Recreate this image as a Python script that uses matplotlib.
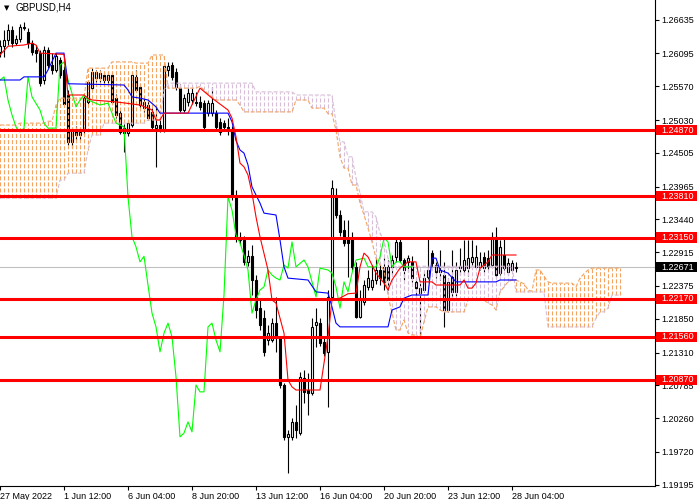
import numpy as np
import matplotlib.pyplot as plt
from matplotlib.patches import Rectangle
from matplotlib.transforms import blended_transform_factory

plt.rcParams['font.family'] = ['Liberation Sans', 'DejaVu Sans']
plt.rcParams['lines.scale_dashes'] = False

# ---- H4 candles (bar 0 = leftmost visible bar) ----
opens = [1.2612, 1.2621, 1.2631, 1.2647, 1.2626, 1.2633, 1.2652, 1.2644, 1.2626, 1.2615,
         1.2610, 1.2567, 1.2615, 1.2591, 1.2583, 1.2599, 1.2583, 1.2543, 1.2468, 1.2487,
         1.2479, 1.2487, 1.2532, 1.2554, 1.2570, 1.2570, 1.2575, 1.2567, 1.2575, 1.2538,
         1.2514, 1.2490, 1.2482, 1.2495, 1.2572, 1.2556, 1.2522, 1.2527, 1.2516, 1.2490,
         1.2495, 1.2487, 1.2583, 1.2591, 1.2580, 1.2554, 1.2519, 1.2532, 1.2535, 1.2532,
         1.2532, 1.2530, 1.2514, 1.2514, 1.2514, 1.2500, 1.2498, 1.2492, 1.2487, 1.2383,
         1.2316, 1.2311, 1.2276, 1.2285, 1.2247, 1.2202, 1.2186, 1.2151, 1.2151, 1.2178,
         1.2154, 1.2079, 1.1996, 1.1996, 1.2020, 1.2002, 1.2090, 1.2071, 1.2066, 1.2175,
         1.2178, 1.2148, 1.2132, 1.2220, 1.2383, 1.2351, 1.2327, 1.2314, 1.2314, 1.2268,
         1.2188, 1.2212, 1.2236, 1.2236, 1.2247, 1.2263, 1.2268, 1.2268, 1.2268, 1.2284,
         1.2308, 1.2279, 1.2276, 1.2276, 1.2244, 1.2226, 1.2231, 1.2252, 1.2290, 1.2271,
         1.2263, 1.2255, 1.2199, 1.2252, 1.2228, 1.2266, 1.2263, 1.2266, 1.2276, 1.2268,
         1.2268, 1.2284, 1.2282, 1.2271, 1.2316, 1.2258, 1.2287, 1.2260, 1.2263, 1.2266]
highs = [1.2631, 1.2647, 1.2657, 1.2653, 1.2639, 1.2657, 1.2660, 1.2650, 1.2631, 1.2623,
         1.2615, 1.2621, 1.2620, 1.2610, 1.2610, 1.2604, 1.2589, 1.2551, 1.2490, 1.2493,
         1.2490, 1.2541, 1.2567, 1.2586, 1.2583, 1.2583, 1.2580, 1.2580, 1.2580, 1.2545,
         1.2519, 1.2497, 1.2503, 1.2580, 1.2583, 1.2561, 1.2538, 1.2535, 1.2522, 1.2527,
         1.2503, 1.2593, 1.2596, 1.2596, 1.2586, 1.2561, 1.2545, 1.2554, 1.2554, 1.2548,
         1.2541, 1.2535, 1.2535, 1.2556, 1.2519, 1.2506, 1.2503, 1.2506, 1.2493, 1.2391,
         1.2324, 1.2317, 1.2295, 1.2303, 1.2255, 1.2215, 1.2199, 1.2175, 1.2186, 1.2220,
         1.2157, 1.2082, 1.2007, 1.2026, 1.2047, 1.2100, 1.2103, 1.2098, 1.2186, 1.2202,
         1.2186, 1.2154, 1.2231, 1.2407, 1.2394, 1.2359, 1.2343, 1.2343, 1.2324, 1.2276,
         1.2231, 1.2247, 1.2263, 1.2271, 1.2282, 1.2274, 1.2282, 1.2279, 1.2287, 1.2314,
         1.2314, 1.2282, 1.2287, 1.2285, 1.2250, 1.2242, 1.2260, 1.2314, 1.2295, 1.2276,
         1.2295, 1.2276, 1.2250, 1.2295, 1.2276, 1.2298, 1.2311, 1.2311, 1.2311, 1.2303,
         1.2292, 1.2292, 1.2295, 1.2324, 1.2332, 1.2311, 1.2314, 1.2282, 1.2279, 1.2276]
lows = [1.2604, 1.2604, 1.2623, 1.2620, 1.2623, 1.2628, 1.2647, 1.2618, 1.2607, 1.2596,
        1.2557, 1.2561, 1.2586, 1.2577, 1.2580, 1.2570, 1.2525, 1.2463, 1.2458, 1.2471,
        1.2471, 1.2481, 1.2529, 1.2551, 1.2564, 1.2564, 1.2561, 1.2561, 1.2529, 1.2506,
        1.2481, 1.2452, 1.2477, 1.2492, 1.2548, 1.2522, 1.2516, 1.2503, 1.2487, 1.2428,
        1.2484, 1.2484, 1.2573, 1.2567, 1.2551, 1.2516, 1.2516, 1.2525, 1.2529, 1.2525,
        1.2519, 1.2487, 1.2509, 1.2509, 1.2487, 1.2479, 1.2487, 1.2479, 1.2375, 1.2308,
        1.2305, 1.2271, 1.2269, 1.2223, 1.2186, 1.2167, 1.2125, 1.2143, 1.2148, 1.2132,
        1.2074, 1.1991, 1.1938, 1.1991, 1.1994, 1.1999, 1.2050, 1.2031, 1.2063, 1.2140,
        1.2141, 1.2125, 1.2044, 1.2215, 1.2346, 1.2317, 1.2301, 1.2252, 1.2263, 1.2186,
        1.2186, 1.2207, 1.2231, 1.2231, 1.2241, 1.2239, 1.2231, 1.2231, 1.2255, 1.2276,
        1.2276, 1.2247, 1.2260, 1.2244, 1.2215, 1.2154, 1.2228, 1.2247, 1.2266, 1.2250,
        1.2247, 1.2172, 1.2196, 1.2215, 1.2221, 1.2255, 1.2255, 1.2253, 1.2271, 1.2266,
        1.2263, 1.2260, 1.2263, 1.2266, 1.2250, 1.2255, 1.2263, 1.2255, 1.2260, 1.2260]
closes = [1.2621, 1.2631, 1.2647, 1.2626, 1.2633, 1.2652, 1.2650, 1.2626, 1.2612, 1.2610,
          1.2562, 1.2615, 1.2591, 1.2583, 1.2605, 1.2575, 1.2529, 1.2468, 1.2487, 1.2479,
          1.2484, 1.2538, 1.2564, 1.2580, 1.2580, 1.2578, 1.2567, 1.2575, 1.2532, 1.2511,
          1.2484, 1.2482, 1.2498, 1.2575, 1.2551, 1.2527, 1.2532, 1.2506, 1.2492, 1.2495,
          1.2490, 1.2589, 1.2589, 1.2572, 1.2556, 1.2519, 1.2538, 1.2546, 1.2546, 1.2530,
          1.2524, 1.2492, 1.2530, 1.2530, 1.2492, 1.2484, 1.2492, 1.2490, 1.2383, 1.2314,
          1.2311, 1.2276, 1.2285, 1.2247, 1.2199, 1.2175, 1.2132, 1.2162, 1.2178, 1.2154,
          1.2079, 1.1996, 1.2001, 1.2020, 1.2007, 1.2092, 1.2068, 1.2066, 1.2172, 1.2180,
          1.2146, 1.2130, 1.2220, 1.2394, 1.2351, 1.2324, 1.2306, 1.2306, 1.2268, 1.2188,
          1.2218, 1.2239, 1.2250, 1.2247, 1.2263, 1.2250, 1.2244, 1.2247, 1.2279, 1.2308,
          1.2279, 1.2263, 1.2282, 1.2250, 1.2234, 1.2234, 1.2250, 1.2263, 1.2274, 1.2260,
          1.2260, 1.2199, 1.2244, 1.2228, 1.2263, 1.2269, 1.2279, 1.2282, 1.2284, 1.2284,
          1.2276, 1.2266, 1.2269, 1.2316, 1.2255, 1.2300, 1.2266, 1.2274, 1.2274, 1.22671]

# ---- Ichimoku lines (bar, price) ----
tenkan_bar = [0, 2, 6, 8, 9, 10, 16, 17, 21, 22, 23, 29, 35, 37, 38, 39, 40, 41, 47, 50,
              53, 57, 58, 59, 60, 61, 62, 63, 64, 65, 67, 68, 69, 71, 72, 73, 74, 80, 81, 82,
              83, 85, 87, 89, 90, 91, 92, 94, 96, 97, 98, 100, 102, 104, 105, 108, 109, 115, 116, 117,
              118, 119, 120, 122, 123, 129]
tenkan_val = [1.2607, 1.2621, 1.2623, 1.2626, 1.2623, 1.2610, 1.2608, 1.2543, 1.2543, 1.2538,
              1.2535, 1.2532, 1.2527, 1.2522, 1.2519, 1.2503, 1.2503, 1.2514, 1.2514, 1.2554,
              1.2538, 1.2519, 1.2506, 1.2476, 1.2434, 1.2428, 1.2415, 1.2386, 1.2348, 1.2316,
              1.2263, 1.2215, 1.2210, 1.2162, 1.2087, 1.2076, 1.2071, 1.2071, 1.2114, 1.2156,
              1.2215, 1.2218, 1.2225, 1.2226, 1.2268, 1.2290, 1.2284, 1.2258, 1.2242, 1.2231,
              1.2247, 1.2266, 1.2276, 1.2276, 1.2244, 1.2244, 1.2239, 1.2239, 1.2247, 1.2234,
              1.2234, 1.2242, 1.2266, 1.2276, 1.2287, 1.2287]

kijun_bar = [0, 5, 6, 11, 12, 14, 16, 17, 31, 32, 33, 35, 37, 39, 40, 57, 58, 59, 60, 61,
             62, 63, 65, 66, 69, 70, 71, 72, 77, 79, 82, 83, 84, 85, 97, 98, 100, 101, 103, 107,
             108, 109, 110, 112, 114, 124, 125, 129]
kijun_val = [1.2567, 1.2567, 1.2572, 1.2572, 1.2583, 1.2610, 1.2610, 1.2561, 1.2559, 1.2551,
             1.2540, 1.2538, 1.2535, 1.2524, 1.2514, 1.2514, 1.2500, 1.2470, 1.2455, 1.2450,
             1.2431, 1.2396, 1.2370, 1.2354, 1.2351, 1.2311, 1.2268, 1.2250, 1.2247, 1.2228,
             1.2226, 1.2204, 1.2178, 1.2172, 1.2172, 1.2199, 1.2204, 1.2218, 1.2223, 1.2223,
             1.2282, 1.2282, 1.2263, 1.2258, 1.2244, 1.2244, 1.2247, 1.2247]

chikou_bar = [0, 1, 2, 3, 4, 5, 6, 7, 8, 10,
              11, 12, 14, 15, 16, 17, 19, 20, 21, 22,
              25, 27, 28, 29, 30, 31, 32, 33, 34, 35,
              36, 37, 38, 39, 40, 41, 42, 43, 44, 45,
              46, 47, 48, 49, 50, 51, 52, 53, 54, 55,
              56, 57, 58, 59, 60, 61, 62, 63, 64, 65,
              66, 67, 68, 69, 70, 71, 72, 73, 74, 76,
              77, 79, 80, 82, 83, 84, 85, 86, 87, 88,
              89, 91, 92, 94, 95, 96, 97, 98, 99, 100,
              101, 103]
chikou_val = [1.2567, 1.2572, 1.2535, 1.2511, 1.2492, 1.2484, 1.2490, 1.2572, 1.2540, 1.2519,
              1.2498, 1.2490, 1.2490, 1.2591, 1.2596, 1.2567, 1.2524, 1.2535, 1.2543, 1.2535,
              1.2527, 1.2530, 1.2514, 1.2498, 1.2495, 1.2492, 1.2380, 1.2316, 1.2300, 1.2276,
              1.2285, 1.2239, 1.2194, 1.2172, 1.2132, 1.2162, 1.2178, 1.2156, 1.2092, 1.1996,
              1.2002, 1.2020, 1.2004, 1.2079, 1.2068, 1.2068, 1.2172, 1.2178, 1.2151, 1.2132,
              1.2223, 1.2380, 1.2359, 1.2319, 1.2306, 1.2287, 1.2263, 1.2194, 1.2215, 1.2231,
              1.2236, 1.2263, 1.2255, 1.2250, 1.2247, 1.2271, 1.2266, 1.2308, 1.2268, 1.2279,
              1.2268, 1.2220, 1.2266, 1.2263, 1.2258, 1.2236, 1.2202, 1.2244, 1.2228, 1.2258,
              1.2279, 1.2282, 1.2268, 1.2268, 1.2284, 1.2314, 1.2308, 1.2268, 1.2276, 1.2276,
              1.2268, 1.2268]

# senkou spans, one value per bar (0..155), written as value runs
span_a_val = [1.2495, 1.2498, 1.2501, 1.2527, 1.2538, 1.2586, 1.2596, 1.2594, 1.2607, 1.2554,
              1.2557, 1.2551, 1.2545, 1.2540, 1.2535, 1.2527, 1.2516, 1.2535, 1.2522, 1.2513,
              1.2487, 1.2444, 1.2426, 1.2399, 1.2370, 1.2351, 1.2330, 1.2308, 1.2282, 1.2271,
              1.2263, 1.2223, 1.2194, 1.2167, 1.2183, 1.2162, 1.2159, 1.2154, 1.2180, 1.2204,
              1.2199, 1.2196, 1.2215, 1.2210, 1.2207, 1.2199, 1.2228, 1.2236, 1.2244, 1.2247,
              1.2244, 1.2241, 1.2231, 1.2229, 1.2263, 1.2253, 1.2244, 1.2242, 1.2236, 1.2250,
              1.2257, 1.2263, 1.2266]
span_a_run = [5, 7, 2, 1, 7, 6, 6, 4, 4, 8,
              1, 1, 1, 1, 6, 1, 13, 4, 4, 2,
              1, 1, 2, 2, 1, 1, 1, 1, 1, 1,
              1, 1, 1, 2, 1, 1, 2, 1, 1, 3,
              1, 6, 5, 1, 1, 1, 1, 1, 1, 2,
              1, 1, 1, 1, 2, 1, 1, 6, 1, 1,
              1, 1, 8]
span_b_val = [1.2378, 1.2407, 1.2418, 1.2455, 1.2479, 1.2498, 1.2503, 1.2551, 1.2562, 1.2548,
              1.2543, 1.2498, 1.2468, 1.2444, 1.2410, 1.2386, 1.2356, 1.2348, 1.2322, 1.2311,
              1.2282, 1.2269, 1.2228, 1.2172, 1.2186, 1.2196, 1.2202, 1.2223]
span_b_run = [15, 2, 5, 1, 3, 11, 4, 1, 22, 10,
              10, 1, 2, 2, 1, 1, 3, 1, 1, 1,
              1, 31, 8, 12, 1, 2, 1, 3]

levels = [1.24870, 1.23810, 1.23150, 1.22170, 1.21560, 1.20870]
bid = 1.22671
price_ticks = [1.26635, 1.26095, 1.25570, 1.25030, 1.24505, 1.23965, 1.23440, 1.22915,
               1.22375, 1.21850, 1.21310, 1.20785, 1.20260, 1.19720, 1.19195]
time_ticks = [0, 16, 32, 48, 64, 80, 96, 112, 128]
time_labels = ['27 May 2022', '1 Jun 12:00', '6 Jun 04:00', '8 Jun 20:00', '13 Jun 12:00',
               '16 Jun 04:00', '20 Jun 20:00', '23 Jun 12:00', '28 Jun 04:00']

SANDY = '#F4A460'
THISTLE = '#D8BFD8'
DOT = (0, (2.9, 1.45))

fig = plt.figure(figsize=(7, 5), dpi=100)
ax = fig.add_axes([0, 14 / 500, 655 / 700, 486 / 500])
ax.set_xlim(0, 655 / 4)
ax.set_ylim(1.19174, 1.2695)

# candles
n = len(closes)
x = np.arange(n)
o = np.array(opens)
c = np.array(closes)
ax.vlines(x, lows, highs, color='black', lw=0.8, zorder=2)
face = np.where(c >= o, 'white', 'black')
ax.bar(x, c - o, bottom=o, width=0.5, color=face, edgecolor='black', lw=0.8, zorder=2.1)

# cloud
span_a = np.repeat(span_a_val, span_a_run)
span_b = np.repeat(span_b_val, span_b_run)
xs = np.arange(len(span_a))
hatch_cols = np.where(span_a >= span_b, SANDY, THISTLE)
ax.vlines(xs, np.minimum(span_a, span_b), np.maximum(span_a, span_b),
          colors=hatch_cols, linestyles=[DOT], lw=0.8, zorder=3)
ax.plot(xs, span_a, color=SANDY, ls=DOT, lw=0.8, zorder=3)
ax.plot(xs, span_b, color=THISTLE, ls=DOT, lw=0.8, zorder=3)

# tenkan / kijun / chikou
ax.plot(chikou_bar, chikou_val, color='#00FF00', lw=0.8, zorder=4)
ax.plot(kijun_bar, kijun_val, color='#0000FF', lw=0.8, zorder=4)
ax.plot(tenkan_bar, tenkan_val, color='#FF0000', lw=0.8, zorder=4)

# bid line and levels
ax.axhline(bid, color='#C0C0C0', lw=0.8, zorder=1)
for lv in levels:
    ax.axhline(lv, color='#FF0000', lw=2.2, zorder=6)

# axes look
for s in ['top', 'left']:
    ax.spines[s].set_visible(False)
for s in ['right', 'bottom']:
    ax.spines[s].set_linewidth(0.8)
ax.yaxis.tick_right()
ax.set_yticks(price_ticks)
ax.set_yticklabels(['%.5f' % p for p in price_ticks])
ax.set_xticks(time_ticks)
ax.set_xticklabels(time_labels)
for lbl in ax.get_xticklabels():
    lbl.set_horizontalalignment('left')
ax.tick_params(axis='y', length=3, width=0.8, pad=1.5, labelsize=6.5)
ax.tick_params(axis='x', length=3, width=0.8, pad=1, labelsize=6.5)

# price boxes on the right scale
tr = blended_transform_factory(ax.transAxes, ax.transData)
for lv, fc in [(p, '#FF0000') for p in levels] + [(bid, 'black')]:
    ax.add_patch(Rectangle((1 + 1 / 655, lv - 0.0008), 41 / 655, 0.0016, transform=tr,
                           facecolor=fc, edgecolor='none', clip_on=False, zorder=7))
    ax.text(1 + 6 / 655, lv, '%.5f' % lv, transform=tr, color='white', fontsize=6.5,
            ha='left', va='center', clip_on=False, zorder=8)

# title
fig.text(4 / 700, 1 - 8 / 500, '\u25bc', fontsize=5, family='DejaVu Sans', va='center')
fig.text(15 / 700, 1 - 8 / 500, 'GBPUSD,H4', fontsize=7, va='center', ha='left')

fig.savefig('out.png', dpi=100)
